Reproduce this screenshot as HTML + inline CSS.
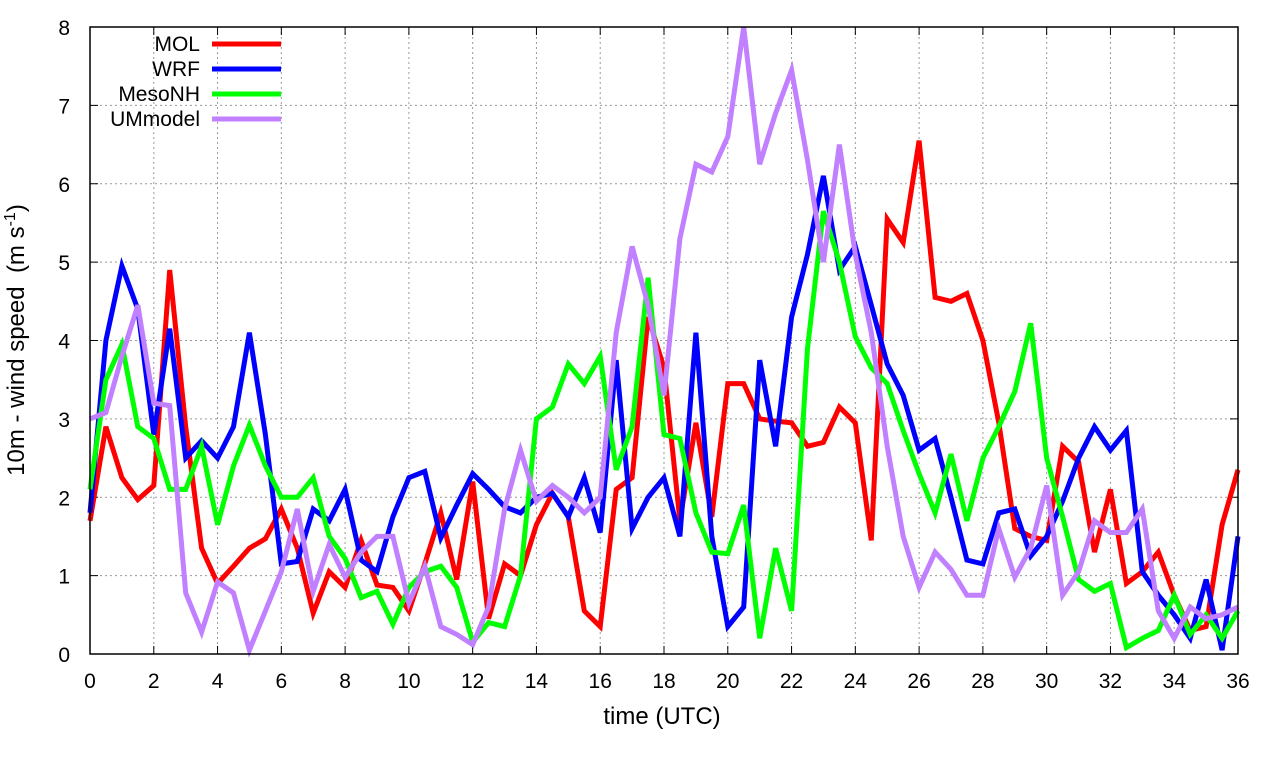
<!DOCTYPE html>
<html><head><meta charset="utf-8"><style>
body{margin:0;background:#fff;}
svg{display:block;font-family:"Liberation Sans",sans-serif;}
</style></head><body>
<svg id="chart" width="1280" height="760" xmlns="http://www.w3.org/2000/svg">
<g id="grid"></g>
<g id="axes"></g>
<g id="series"></g>
<rect x="90" y="27" width="1148" height="627" fill="none" stroke="#000" stroke-width="1.5"/>
<text x="662" y="724" font-size="24" text-anchor="middle">time (UTC)</text>
<text transform="translate(24,340) rotate(-90)" font-size="24" text-anchor="middle" xml:space="preserve">10m - wind speed  (m s<tspan dy="-9" font-size="16">-1</tspan><tspan dy="9">)</tspan></text>
<g id="legend"></g>
</svg>
<script>
const hours=[];for(let i=0;i<=72;i++)hours.push(i*0.5);
const xTicks=[0,2,4,6,8,10,12,14,16,18,20,22,24,26,28,30,32,34,36];
const yTicks=[0,1,2,3,4,5,6,7,8];
const seriesNames=["MOL","WRF","MesoNH","UMmodel"];
const seriesColors=["#ff0000","#0000ff","#00ff00","#c080ff"];
const mol=[1.7,2.9,2.25,1.97,2.15,4.9,2.9,1.35,0.9,1.12,1.35,1.47,1.85,1.35,0.52,1.05,0.85,1.45,0.88,0.85,0.55,1.15,1.8,0.95,2.2,0.45,1.15,1.0,1.65,2.05,1.75,0.55,0.35,2.1,2.25,4.3,3.65,1.7,2.95,1.75,3.45,3.45,3.0,2.97,2.95,2.65,2.7,3.15,2.95,1.45,5.55,5.25,6.55,4.55,4.5,4.6,4.0,2.95,1.6,1.5,1.45,2.65,2.45,1.3,2.1,0.9,1.05,1.3,0.75,0.3,0.35,1.65,2.35];
const wrf=[1.8,4.0,4.95,4.4,2.8,4.15,2.5,2.72,2.5,2.9,4.1,2.8,1.15,1.18,1.85,1.7,2.1,1.2,1.05,1.75,2.25,2.33,1.48,1.9,2.3,2.1,1.88,1.8,2.0,2.05,1.75,2.25,1.55,3.75,1.6,2.0,2.25,1.5,4.1,1.5,0.35,0.6,3.75,2.65,4.3,5.1,6.1,4.9,5.2,4.45,3.7,3.3,2.6,2.75,2.0,1.2,1.15,1.8,1.85,1.25,1.5,1.95,2.5,2.9,2.6,2.85,1.05,0.75,0.5,0.2,0.95,0.05,1.5];
const mesonh=[2.1,3.5,3.95,2.9,2.75,2.1,2.1,2.65,1.65,2.4,2.92,2.4,2.0,2.0,2.25,1.5,1.22,0.72,0.8,0.38,0.85,1.05,1.12,0.85,0.15,0.4,0.35,1.0,3.0,3.15,3.7,3.45,3.8,2.35,2.9,4.8,2.8,2.75,1.8,1.3,1.28,1.9,0.2,1.35,0.55,3.9,5.65,5.0,4.05,3.65,3.45,2.85,2.3,1.8,2.55,1.7,2.5,2.9,3.35,4.22,2.5,1.75,0.95,0.8,0.9,0.08,0.2,0.3,0.75,0.25,0.5,0.2,0.55];
const ummodel=[3.0,3.08,3.8,4.45,3.2,3.17,0.78,0.28,0.92,0.78,0.05,0.55,1.05,1.85,0.8,1.4,0.98,1.3,1.5,1.5,0.65,1.12,0.35,0.25,0.12,0.6,1.85,2.6,1.95,2.15,2.0,1.8,2.0,4.1,5.2,4.45,3.3,5.3,6.25,6.15,6.6,8.0,6.25,6.9,7.45,6.3,5.0,6.5,5.1,4.1,2.65,1.5,0.85,1.3,1.08,0.75,0.75,1.6,0.98,1.35,2.15,0.75,1.05,1.7,1.55,1.55,1.85,0.55,0.2,0.6,0.45,0.5,0.6];
const allSeries=[mol,wrf,mesonh,ummodel];

const X0=90,X1=1238,Y0=654,Y1=27;
const xs=v=>X0+(v-0)/(36-0)*(X1-X0);
const ys=v=>Y0-(v-0)/(8-0)*(Y0-Y1);
const NS="http://www.w3.org/2000/svg";
function mk(tag,parent,attrs){const e=document.createElementNS(NS,tag);for(const k in attrs)e.setAttribute(k,attrs[k]);parent.appendChild(e);return e;}
const grid=document.getElementById('grid'),axes=document.getElementById('axes'),ser=document.getElementById('series'),leg=document.getElementById('legend');
xTicks.forEach(t=>{
  const x=xs(t);
  if(t>0&&t<36){const g=mk('line',grid,{x1:x,x2:x,y1:Y1,y2:Y0,stroke:'#999','stroke-dasharray':'2,3'});
  
  }
  const a=mk('line',axes,{x1:x,x2:x,y1:Y0,y2:Y0-8,stroke:'#000'});
  
  
  const b=mk('line',axes,{x1:x,x2:x,y1:Y1,y2:Y1+8,stroke:'#000'});
  
  
  const l=mk('text',axes,{x:x,y:688,'font-size':21,'text-anchor':'middle'});l.textContent=t;
  
  
});
yTicks.forEach(t=>{
  const y=ys(t);
  if(t>0&&t<8){const g=mk('line',grid,{x1:X0,x2:X1,y1:y,y2:y,stroke:'#999','stroke-dasharray':'2,3'});
  
  }
  const a=mk('line',axes,{x1:X0,x2:X0+8,y1:y,y2:y,stroke:'#000'});
  
  
  const b=mk('line',axes,{x1:X1,x2:X1-8,y1:y,y2:y,stroke:'#000'});
  
  
  const l=mk('text',axes,{x:70,y:y+8,'font-size':21,'text-anchor':'end'});l.textContent=t;
  
  
});
allSeries.forEach((vals,si)=>{
  const pts=vals.map((v,i)=>xs(hours[i]).toFixed(1)+','+ys(v).toFixed(1)).join(' ');
  const p=mk('polyline',ser,{points:pts,fill:'none',stroke:seriesColors[si],'stroke-width':5,'stroke-linejoin':'miter'});
  
  
  const ly=44+si*25;
  const t=mk('text',leg,{x:200,y:ly+7,'font-size':21,'text-anchor':'end'});t.textContent=seriesNames[si];
  
  
  const s=mk('line',leg,{x1:212,x2:281,y1:ly,y2:ly,stroke:seriesColors[si],'stroke-width':5});
  
  
});
</script>
</body></html>
